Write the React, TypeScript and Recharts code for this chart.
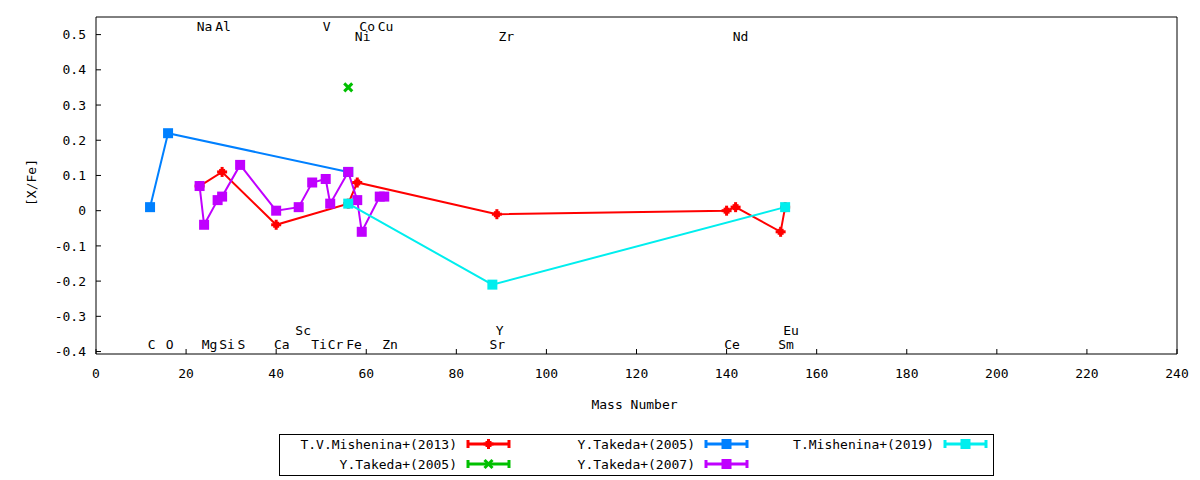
import React from 'react';
import { ComposedChart, Line, Scatter, XAxis, YAxis } from 'recharts';

const FONT = "'DejaVu Sans Mono', monospace";

const xTicks = [0, 20, 40, 60, 80, 100, 120, 140, 160, 180, 200, 220, 240];
const yTicks = [-0.4, -0.3, -0.2, -0.1, 0, 0.1, 0.2, 0.3, 0.4, 0.5];

const mishenina2013 = [
  { x: 23, y: 0.07 },
  { x: 28, y: 0.11 },
  { x: 40, y: -0.04 },
  { x: 56, y: 0.02 },
  { x: 58, y: 0.08 },
  { x: 89, y: -0.01 },
  { x: 140, y: 0.0 },
  { x: 142, y: 0.01 },
  { x: 152, y: -0.06 },
  { x: 153, y: 0.01 },
];
const takeda2005green = [{ x: 56, y: 0.35 }];
const takeda2005blue = [
  { x: 12, y: 0.01 },
  { x: 16, y: 0.22 },
  { x: 56, y: 0.11 },
];
const takeda2007 = [
  { x: 23, y: 0.07 },
  { x: 24, y: -0.04 },
  { x: 27, y: 0.03 },
  { x: 28, y: 0.04 },
  { x: 32, y: 0.13 },
  { x: 40, y: 0.0 },
  { x: 45, y: 0.01 },
  { x: 48, y: 0.08 },
  { x: 51, y: 0.09 },
  { x: 52, y: 0.02 },
  { x: 56, y: 0.11 },
  { x: 58, y: 0.03 },
  { x: 59, y: -0.06 },
  { x: 63, y: 0.04 },
  { x: 64, y: 0.04 },
];
const mishenina2019 = [
  { x: 56, y: 0.02 },
  { x: 88, y: -0.21 },
  { x: 153, y: 0.01 },
];

const elementLabels = [
  { x: 24.1, y: 0.524, name: 'Na' },
  { x: 28.2, y: 0.524, name: 'Al' },
  { x: 51.2, y: 0.524, name: 'V' },
  { x: 60.2, y: 0.524, name: 'Co' },
  { x: 64.3, y: 0.524, name: 'Cu' },
  { x: 59.2, y: 0.494, name: 'Ni' },
  { x: 91.1, y: 0.494, name: 'Zr' },
  { x: 143.1, y: 0.494, name: 'Nd' },
  { x: 46.0, y: -0.339, name: 'Sc' },
  { x: 89.6, y: -0.339, name: 'Y' },
  { x: 154.3, y: -0.339, name: 'Eu' },
  { x: 12.35, y: -0.38, name: 'C' },
  { x: 16.35, y: -0.38, name: 'O' },
  { x: 25.2, y: -0.38, name: 'Mg' },
  { x: 29.1, y: -0.38, name: 'Si' },
  { x: 32.3, y: -0.38, name: 'S' },
  { x: 41.25, y: -0.38, name: 'Ca' },
  { x: 49.5, y: -0.38, name: 'Ti' },
  { x: 53.2, y: -0.38, name: 'Cr' },
  { x: 57.3, y: -0.38, name: 'Fe' },
  { x: 65.3, y: -0.38, name: 'Zn' },
  { x: 89.1, y: -0.38, name: 'Sr' },
  { x: 141.2, y: -0.38, name: 'Ce' },
  { x: 153.2, y: -0.38, name: 'Sm' },
];

const frameAnchor = [
  { x: 0, y: -0.407 },
  { x: 240, y: 0.55 },
];

const RED = '#ff0000';
const GREEN = '#00c000';
const BLUE = '#0080ff';
const PURPLE = '#c000ff';
const CYAN = '#00eeee';

type MarkerKind = 'plus' | 'cross' | 'square';

function Marker({ kind, cx, cy, color }: { kind: MarkerKind; cx: number; cy: number; color: string }) {
  if (kind === 'plus') {
    return (
      <g>
        <rect x={cx - 5} y={cy - 1.5} width={10} height={3} fill={color} />
        <rect x={cx - 1.5} y={cy - 5} width={3} height={10} fill={color} />
        <rect x={cx - 3} y={cy - 3} width={6} height={6} fill={color} />
      </g>
    );
  }
  if (kind === 'cross') {
    return (
      <g stroke={color} strokeWidth={3}>
        <line x1={cx - 4} y1={cy - 4} x2={cx + 4} y2={cy + 4} />
        <line x1={cx - 4} y1={cy + 4} x2={cx + 4} y2={cy - 4} />
      </g>
    );
  }
  return <rect x={cx - 5} y={cy - 5} width={10} height={10} fill={color} />;
}

const makeDot = (kind: MarkerKind, color: string) => (props: any) => {
  const { cx, cy, index } = props;
  if (cx == null || cy == null) return <g key={`d-${index}`} />;
  return (
    <g key={`d-${kind}-${color}-${index}`}>
      <Marker kind={kind} cx={cx} cy={cy} color={color} />
    </g>
  );
};

const seriesDefs = [
  { name: 'T.V.Mishenina+(2013)', data: mishenina2013, color: RED, kind: 'plus' as MarkerKind, col: 0, row: 0 },
  { name: 'Y.Takeda+(2005)', data: takeda2005green, color: GREEN, kind: 'cross' as MarkerKind, col: 0, row: 1 },
  { name: 'Y.Takeda+(2005)', data: takeda2005blue, color: BLUE, kind: 'square' as MarkerKind, col: 1, row: 0 },
  { name: 'Y.Takeda+(2007)', data: takeda2007, color: PURPLE, kind: 'square' as MarkerKind, col: 1, row: 1 },
  { name: 'T.Mishenina+(2019)', data: mishenina2019, color: CYAN, kind: 'square' as MarkerKind, col: 2, row: 0 },
];

const legendTextRight = [457, 695, 934];
const legendRowY = [444, 464];

function LegendOverlay() {
  return (
    <svg
      width={1200}
      height={480}
      style={{ position: 'absolute', left: 0, top: 0, pointerEvents: 'none' }}
    >
      <rect x={279.5} y={434.5} width={714} height={41} fill="none" stroke="#000" strokeWidth={1} />
      {seriesDefs.map((s, i) => {
        const tr = legendTextRight[s.col];
        const y = legendRowY[s.row];
        const x1 = tr + 10;
        const x2 = x1 + 43;
        const xm = (x1 + x2) / 2;
        return (
          <g key={i}>
            <text
              x={tr}
              y={y}
              textAnchor="end"
              dominantBaseline="central"
              fontFamily={FONT}
              fontSize={13}
              fill="#000"
            >
              {s.name}
            </text>
            <line x1={x1} y1={y} x2={x2} y2={y} stroke={s.color} strokeWidth={3} />
            <line x1={x1 + 1} y1={y - 4} x2={x1 + 1} y2={y + 4} stroke={s.color} strokeWidth={3} />
            <line x1={x2 - 1} y1={y - 4} x2={x2 - 1} y2={y + 4} stroke={s.color} strokeWidth={3} />
            <Marker kind={s.kind} cx={xm} cy={y} color={s.color} />
          </g>
        );
      })}
    </svg>
  );
}

const tickStyle = { fill: '#000', fontSize: 13, fontFamily: FONT };

export default function App() {
  return (
    <div style={{ position: 'absolute', left: 0, top: 0, width: 1200, height: 480, background: '#fff' }}>
      <ComposedChart
        width={1200}
        height={480}
        margin={{ top: 16, right: 22, bottom: 96, left: 36 }}
      >
        <XAxis
          xAxisId="main"
          dataKey="x"
          type="number"
          domain={[0, 240]}
          ticks={xTicks}
          interval={0}
          allowDataOverflow
          height={30}
          tickSize={-5}
          tickMargin={20}
          tick={tickStyle}
          stroke="#000"
          axisLine={{ stroke: '#000' }}
          tickLine={{ stroke: '#000' }}
          label={{
            content: (p: any) => {
              const vb = p.viewBox || { x: 96, y: 354, width: 1081, height: 30 };
              return (
                <text
                  x={vb.x + vb.width / 2 - 2}
                  y={vb.y + 54.5}
                  textAnchor="middle"
                  fontFamily={FONT}
                  fontSize={13}
                  fill="#000"
                >
                  Mass Number
                </text>
              );
            },
          }}
        />
        <XAxis
          xAxisId="top"
          dataKey="x"
          orientation="top"
          type="number"
          domain={[0, 240]}
          ticks={xTicks}
          interval={0}
          allowDataOverflow
          height={1}
          tickSize={-5}
          tick={false}
          stroke="#000"
          axisLine={{ stroke: '#000' }}
          tickLine={{ stroke: '#000' }}
        />
        <YAxis
          yAxisId="main"
          dataKey="y"
          type="number"
          domain={[-0.407, 0.55]}
          ticks={yTicks}
          interval={0}
          allowDataOverflow
          width={60}
          tickSize={-5}
          tickMargin={15}
          tick={tickStyle}
          stroke="#000"
          axisLine={{ stroke: '#000' }}
          tickLine={{ stroke: '#000' }}
          label={{
            content: (p: any) => {
              const vb = p.viewBox || { x: 36, y: 17, width: 60, height: 337 };
              const cx = vb.x - 4.5;
              const cy = vb.y + vb.height / 2 - 3;
              return (
                <text
                  x={cx}
                  y={cy}
                  transform={`rotate(-90 ${cx} ${cy})`}
                  textAnchor="middle"
                  dominantBaseline="central"
                  fontFamily={FONT}
                  fontSize={13}
                  fill="#000"
                >
                  [X/Fe]
                </text>
              );
            },
          }}
        />
        <YAxis
          yAxisId="right"
          dataKey="y"
          orientation="right"
          type="number"
          domain={[-0.407, 0.55]}
          ticks={yTicks}
          interval={0}
          allowDataOverflow
          width={1}
          tickSize={-5}
          tick={false}
          stroke="#000"
          axisLine={{ stroke: '#000' }}
          tickLine={{ stroke: '#000' }}
        />
        <Line
          xAxisId="top"
          yAxisId="right"
          data={frameAnchor}
          dataKey="y"
          stroke="none"
          strokeWidth={0}
          dot={false}
          activeDot={false}
          isAnimationActive={false}
          legendType="none"
        />
        <Scatter
          xAxisId="main"
          yAxisId="main"
          data={elementLabels}
          dataKey="y"
          isAnimationActive={false}
          legendType="none"
          shape={(p: any) => (
            <text
              x={p.cx}
              y={p.cy}
              textAnchor="middle"
              dominantBaseline="central"
              fontFamily={FONT}
              fontSize={13}
              fill="#000"
            >
              {p.payload.name}
            </text>
          )}
        />
        {seriesDefs.map((s, i) => (
          <Line
            key={i}
            xAxisId="main"
            yAxisId="main"
            data={s.data}
            dataKey="y"
            type="linear"
            stroke={s.color}
            strokeWidth={2}
            dot={makeDot(s.kind, s.color)}
            activeDot={false}
            isAnimationActive={false}
            legendType="none"
          />
        ))}
      </ComposedChart>
      <LegendOverlay />
    </div>
  );
}
